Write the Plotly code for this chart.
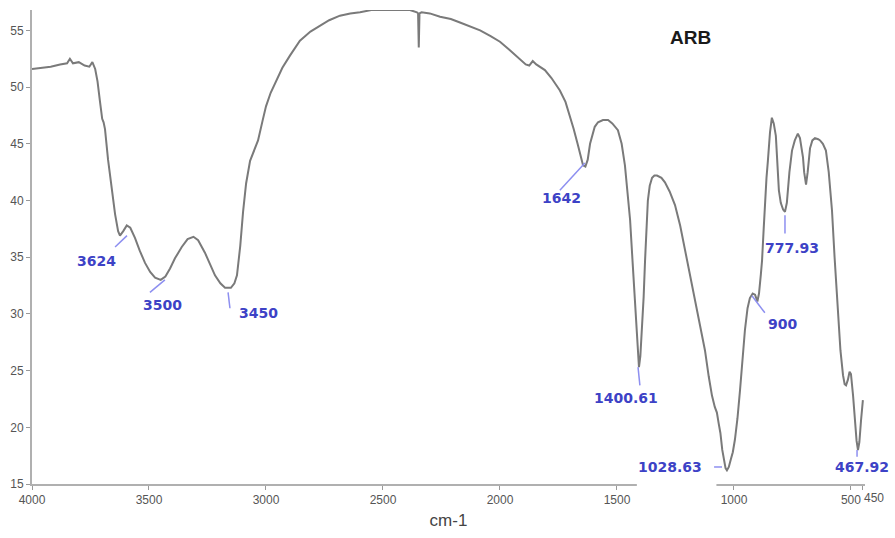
import plotly.graph_objects as go

wavenumber = [4000, 3960, 3920, 3880, 3850, 3838, 3825, 3800, 3775, 3755, 3742, 3730, 3720, 3710, 3700,
              3694, 3688, 3675, 3660, 3645, 3632, 3624, 3610, 3595, 3580, 3560, 3540, 3517, 3495, 3474,
              3450, 3430, 3410, 3389, 3360, 3335, 3310, 3290, 3261, 3240, 3218, 3195, 3175, 3150, 3135,
              3124, 3110, 3098, 3085, 3068, 3050, 3034, 3015, 3000, 2980, 2962, 2930, 2897, 2855, 2810,
              2769, 2730, 2684, 2640, 2598, 2550, 2513, 2450, 2385, 2355, 2350, 2347, 2344, 2335, 2300,
              2256, 2210, 2171, 2130, 2085, 2040, 2000, 1960, 1915, 1890, 1875, 1860, 1845, 1825, 1808,
              1780, 1744, 1720, 1701, 1685, 1667, 1655, 1645, 1635, 1625, 1615, 1607, 1595, 1581, 1560,
              1538, 1520, 1496, 1480, 1466, 1455, 1444, 1433, 1423, 1414, 1406, 1400, 1393, 1386, 1380,
              1373, 1368, 1360, 1350, 1340, 1329, 1310, 1295, 1275, 1252, 1230, 1209, 1188, 1167, 1145,
              1124, 1108, 1094, 1082, 1073, 1065, 1058, 1050, 1043, 1036, 1030, 1022, 1013, 1005, 996,
              985, 974, 963, 953, 942, 932, 920, 910, 900, 893, 885, 880, 873, 868, 861,
              855, 846, 838, 830, 821, 813, 808, 800, 790, 782, 774, 763, 752, 740, 727,
              718, 710, 705, 700, 692, 685, 675, 665, 654, 640, 632, 620, 607, 595, 581,
              570, 556, 545, 534, 527, 521, 513, 506, 500, 491, 482, 476, 470, 464, 457, 449]
transmittance = [51.6, 51.7, 51.8, 52.0, 52.1, 52.5, 52.1, 52.2, 51.9, 51.8, 52.2, 51.6, 50.5, 48.8, 47.2,
                 46.9, 46.3, 43.6, 41.0, 38.8, 37.3, 36.9, 37.3, 37.8, 37.6, 36.7, 35.6, 34.5, 33.7, 33.2,
                 33.0, 33.3, 34.0, 34.9, 35.9, 36.6, 36.8, 36.5, 35.4, 34.4, 33.4, 32.7, 32.3, 32.3, 32.7,
                 33.4, 36.0, 39.0, 41.5, 43.5, 44.4, 45.3, 47.0, 48.3, 49.5, 50.3, 51.7, 52.8, 54.1, 54.9,
                 55.4, 55.9, 56.3, 56.5, 56.6, 56.8, 56.8, 56.8, 56.8, 56.6, 56.5, 53.5, 56.5, 56.6, 56.5,
                 56.2, 56.0, 55.7, 55.4, 55.0, 54.5, 54.0, 53.3, 52.5, 52.0, 51.9, 52.3, 52.0, 51.7, 51.5,
                 50.8, 49.7, 48.7, 47.5, 46.3, 44.9, 43.8, 43.1, 43.0, 43.6, 45.0, 45.7, 46.5, 46.9, 47.1,
                 47.1, 46.8, 46.2, 45.0, 43.1, 41.0, 38.3, 34.5, 31.2, 27.5, 25.3, 26.3, 28.6, 31.5, 34.7,
                 38.0, 40.0, 41.3, 42.0, 42.2, 42.2, 42.0, 41.6, 40.8, 39.6, 37.8, 35.6, 33.4, 31.2, 29.0,
                 26.8, 24.5, 22.8, 21.8, 21.3, 20.3, 19.5, 18.0, 17.0, 16.4, 16.2, 16.5, 17.2, 17.8, 18.9,
                 20.8, 23.3, 26.0, 28.6, 30.5, 31.4, 31.8, 31.7, 31.1, 31.8, 33.5, 34.7, 37.5, 40.0, 42.0,
                 43.5, 46.0, 47.3, 46.8, 45.7, 43.0, 40.9, 39.8, 39.2, 39.0, 39.8, 42.5, 44.4, 45.3, 45.9,
                 45.5, 44.6, 43.8, 42.5, 41.4, 42.5, 44.6, 45.3, 45.5, 45.4, 45.3, 45.0, 44.4, 42.5, 39.1,
                 35.0, 30.3, 26.8, 24.6, 23.8, 23.7, 24.2, 24.9, 24.7, 22.8, 20.3, 18.8, 18.0, 18.7, 20.6, 22.4]

x_tick_values = [4000, 3500, 3000, 2500, 2000, 1500, 1000, 500, 450]
x_tick_labels = ["4000", "3500", "3000", "2500", "2000", "1500", "1000", "500", ""]
end_tick_value = 450
end_tick_label = "450"
y_tick_values = [15, 20, 25, 30, 35, 40, 45, 50, 55]

# peak labels: text, text position (wavenumber, T), leader segment (x0, y0, x1, y1)
peak_labels = ["3624", "3500", "3450", "1642", "1400.61", "1028.63", "900", "777.93", "467.92"]
label_x = [3726, 3444, 3030, 1739, 1462, 1274, 791, 752, 453]
label_y = [34.7, 30.8, 30.1, 40.2, 22.6, 16.5, 29.1, 35.8, 16.5]
leaders = [(3594, 36.9, 3645, 35.9), (3432, 33.0, 3496, 31.9), (3162, 31.9, 3154, 30.5),
           (1637, 43.3, 1744, 40.9), (1410, 25.3, 1402, 23.7), (1085, 16.5, 1051, 16.5),
           (923, 31.6, 868, 30.1), (782, 38.7, 782, 37.1), (474, 18.0, 474, 17.4)]

tick_font = dict(family="Liberation Sans, Arial", size=12, color="#555555")
blue = "#3d42c6"

fig = go.Figure()
fig.add_trace(go.Scatter(x=wavenumber, y=transmittance, mode="lines",
                         line=dict(color="#7a7a7a", width=2), showlegend=False, hoverinfo="skip"))

shapes = [dict(type="rect", xref="x", yref="paper", x0=1415, x1=1075, y0=-0.01, y1=0.06,
               fillcolor="white", line=dict(width=0), layer="above")]
for (x0, y0, x1, y1) in leaders:
    shapes.append(dict(type="line", xref="x", yref="y", x0=x0, y0=y0, x1=x1, y1=y1,
                       line=dict(color="#8d8ff0", width=1.5), layer="above"))

annotations = []
for t, lx, ly in zip(peak_labels, label_x, label_y):
    annotations.append(dict(x=lx, y=ly, xref="x", yref="y", text="<b>" + t + "</b>", showarrow=False,
                            xanchor="center", yanchor="middle",
                            font=dict(family="DejaVu Sans", size=14, color=blue)))
annotations.append(dict(x=0.790, y=0.941, xref="paper", yref="paper", text="<b>ARB</b>", showarrow=False,
                        xanchor="center", yanchor="middle",
                        font=dict(family="Liberation Sans, Arial", size=19, color="#1a1a1a")))
# the end tick label sits just right of the "500" label, as in the reference
annotations.append(dict(x=end_tick_value, y=0, xref="x", yref="paper", text=end_tick_label, showarrow=False,
                        xanchor="left", yanchor="top", xshift=-1, yshift=-5, font=tick_font))

fig.update_layout(
    width=895, height=538,
    margin=dict(l=32, r=30, t=10, b=54),
    paper_bgcolor="white", plot_bgcolor="white",
    shapes=shapes, annotations=annotations,
    xaxis=dict(range=[4000, 440], tickvals=x_tick_values, ticktext=x_tick_labels, tickangle=0,
               showgrid=False, zeroline=False, showline=True, linecolor="#b0b0b0", linewidth=2,
               ticks="outside", ticklen=4, tickcolor="#999999", tickfont=tick_font,
               title=dict(text="cm-1", font=dict(family="Liberation Sans, Arial",
                                                  size=17, color="#444444"), standoff=8)),
    yaxis=dict(range=[15, 56.8], tickvals=y_tick_values,
               showgrid=False, zeroline=False, showline=True, linecolor="#b0b0b0", linewidth=2,
               ticks="outside", ticklen=4, tickcolor="#999999", tickfont=tick_font),
)

fig.write_html("out.html")
